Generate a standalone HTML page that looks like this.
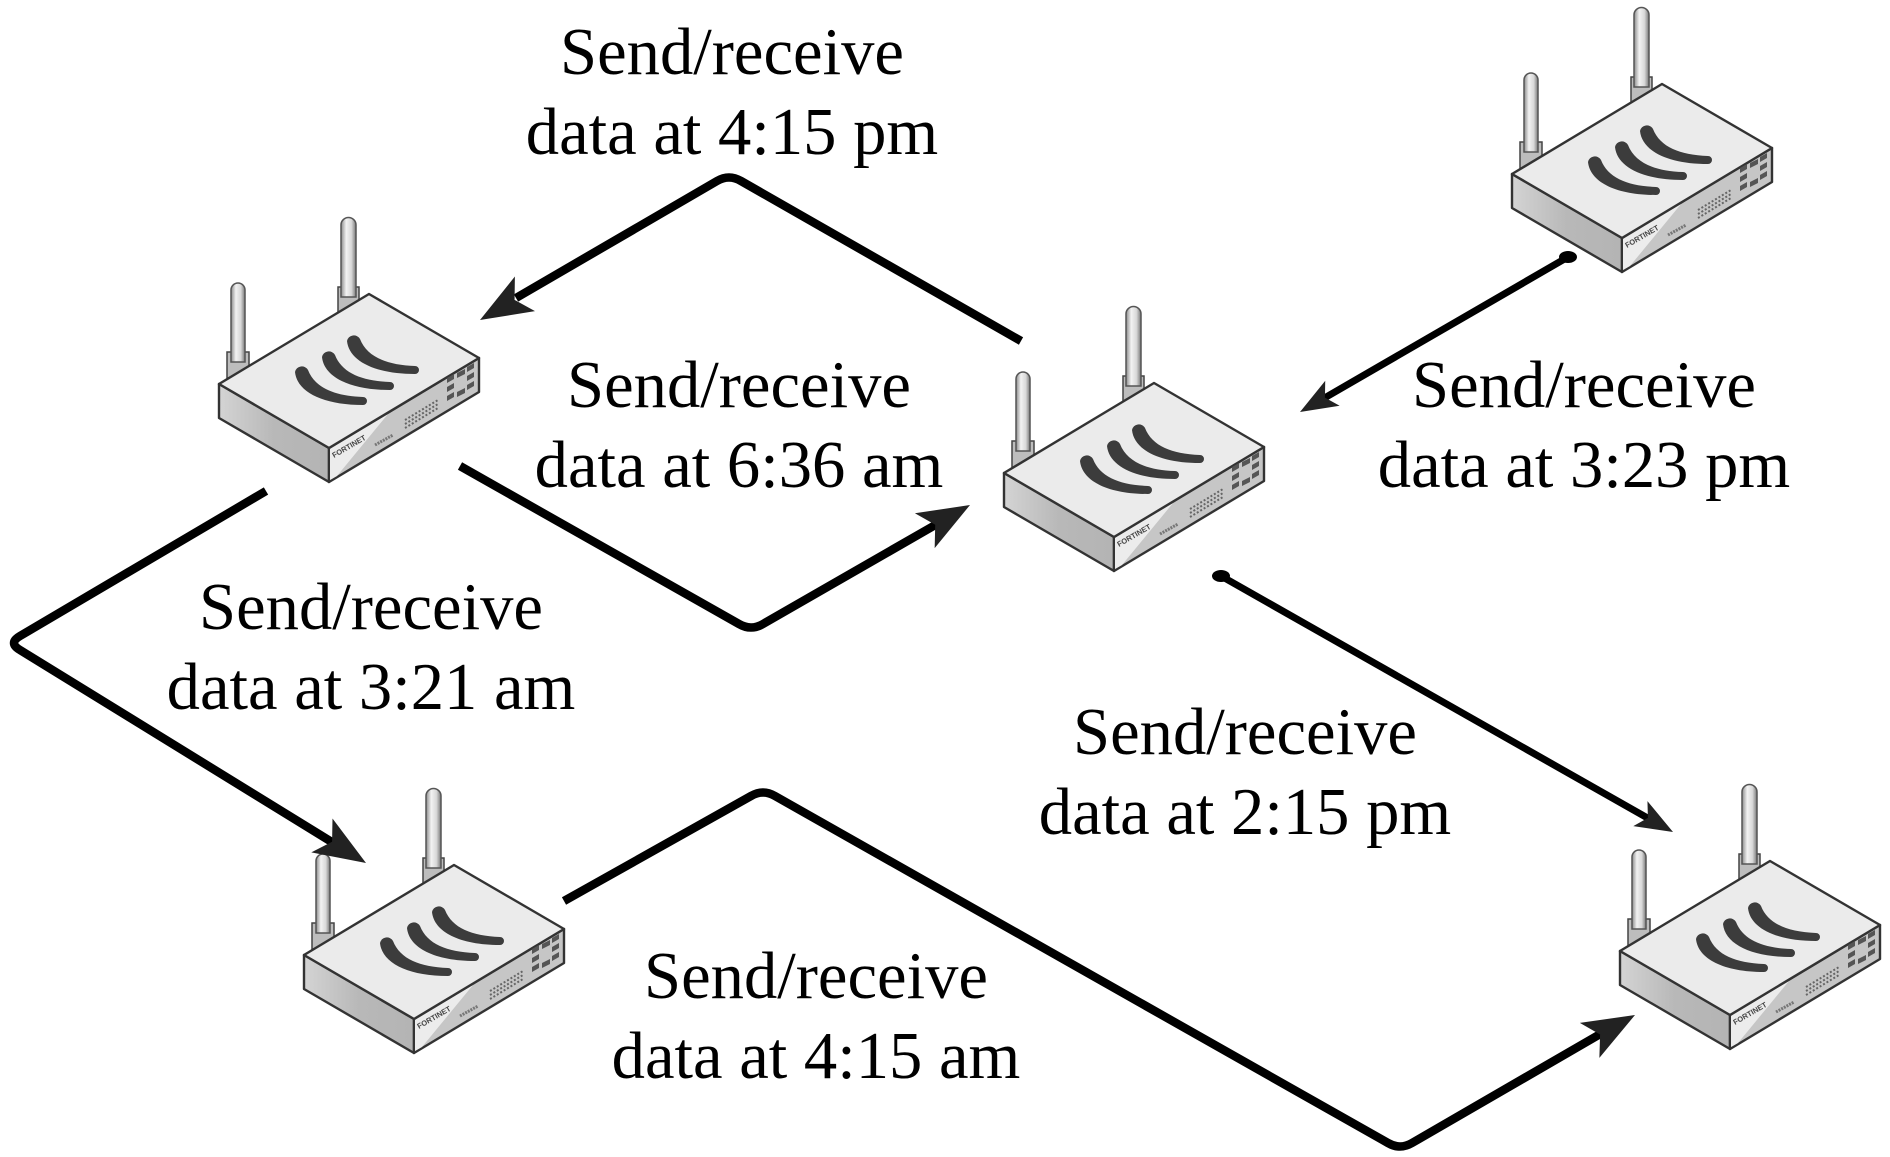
<!DOCTYPE html>
<html><head><meta charset="utf-8"><style>
html,body{margin:0;padding:0;background:#fff}
svg{display:block}
text.t{font-family:"Liberation Serif",serif;font-size:66.6px;fill:#000;text-anchor:middle}
</style></head><body>
<svg width="1890" height="1157" viewBox="0 0 1890 1157" xmlns="http://www.w3.org/2000/svg">
<defs>
<linearGradient id="ant" x1="0" x2="1" y1="0" y2="0"><stop offset="0" stop-color="#8a8a8a"/><stop offset=".35" stop-color="#f2f2f2"/><stop offset=".7" stop-color="#d8d8d8"/><stop offset="1" stop-color="#777"/></linearGradient>
<linearGradient id="lf" x1="0" x2="1" y1="0" y2="0"><stop offset="0" stop-color="#d4d4d4"/><stop offset=".5" stop-color="#b8b8b8"/><stop offset="1" stop-color="#b4b4b4"/></linearGradient>
<path id="arc" d="M76 -12C78 8 104 21 144 21A4 4 0 0 0 144 13C116 12 96 4 89 -14A7 7 0 0 0 76 -12Z" fill="#3c3c3c"/>
<g id="r">
  <rect x="8" y="-32" width="22" height="26" fill="#bdbdbd" stroke="#444" stroke-width="1.5"/>
  <path d="M12 -22V-94a7 7 0 0 1 14 0V-22Z" fill="url(#ant)" stroke="#555" stroke-width="1.5"/>
  <rect x="119" y="-97" width="21" height="26" fill="#bdbdbd" stroke="#444" stroke-width="1.5"/>
  <path d="M122 -87V-159a7.5 7.5 0 0 1 15 0V-87Z" fill="url(#ant)" stroke="#555" stroke-width="1.5"/>
  <path d="M0 0L110 64V98L0 34Z" fill="url(#lf)" stroke="#333" stroke-width="2.4" stroke-linejoin="round"/>
  <path d="M110 64L260 -26V8L110 98Z" fill="#c6c6c6" stroke="#333" stroke-width="2.4" stroke-linejoin="round"/>
  <path d="M111 65L169 30L118 92L111 96Z" fill="#ececec"/>
  <path d="M0 0L150 -90L260 -26L110 64Z" fill="#ebebeb" stroke="#333" stroke-width="2.4" stroke-linejoin="round"/>
  <use href="#arc"/>
  <use href="#arc" x="27" y="-15"/>
  <use href="#arc" x="52" y="-31"/>
  <g fill="#555">
    <path d="M228 -6l7 -4v5l-7 4zM228 3l7 -4v5l-7 4zM228 12l7 -4v5l-7 4z"/>
    <path d="M238 -11l8 -4v5l-8 4zM238 8l8 -4v5l-8 4z"/>
    <path d="M248 -17l7 -4v5l-7 4zM248 -8l7 -4v5l-7 4zM248 1l7 -4v5l-7 4z"/>
  </g>
  <path d="M186 36L219 16M186 40L219 20M186 44L219 24" stroke="#666" stroke-width="2" stroke-dasharray="2 2" fill="none"/>
  <text x="0" y="0" transform="translate(115 74) rotate(-30)" font-family="Liberation Sans,sans-serif" font-size="7.5" font-weight="bold" fill="#444">FORTINET</text>
  <path d="M156 61L174 51" stroke="#777" stroke-width="3" stroke-dasharray="2 1" fill="none"/>
</g>
<polygon id="h" points="0,0 -52,-20 -40,0 -52,20" fill="#222"/>
</defs>
<rect width="1890" height="1157" fill="#fff"/>

<use href="#r" x="219" y="384"/>
<use href="#r" x="1004" y="473"/>
<use href="#r" x="1512" y="174"/>
<use href="#r" x="304" y="955"/>
<use href="#r" x="1620" y="951"/>

<g fill="none" stroke="#000" stroke-width="8.5">
  <path d="M1021 341L741 181Q729 174 717 181L516 298"/>
  <path d="M460 466L739 624Q751 631 763 624L937 524"/>
  <path d="M266 491L20 636Q8 643 20 650L335 844"/>
  <path d="M564 901L751 796Q763 789 775 796L1388 1143Q1400 1150 1412 1143L1602 1033"/>
</g>
<g fill="none" stroke="#000" stroke-width="7">
  <path d="M1568 257L1321 400"/>
  <path d="M1221 576L1651 820"/>
</g>
<ellipse cx="1568" cy="257" rx="9" ry="6" fill="#000"/>
<ellipse cx="1221" cy="576" rx="9" ry="6" fill="#000"/>

<use href="#h" transform="translate(480 320) rotate(149.8)"/>
<use href="#h" transform="translate(970 505) rotate(-29.6)"/>
<use href="#h" transform="translate(366 863) rotate(32)"/>
<use href="#h" transform="translate(1635 1015) rotate(-29.2)"/>
<use href="#h" transform="translate(1300 412) rotate(150) scale(.72)"/>
<use href="#h" transform="translate(1673 832) rotate(29.4) scale(.72)"/>

<text class="t" x="732" y="74">Send/receive</text><text class="t" x="732" y="154">data at 4:15 pm</text>
<text class="t" x="739" y="407">Send/receive</text><text class="t" x="739" y="487">data at 6:36 am</text>
<text class="t" x="1584" y="407">Send/receive</text><text class="t" x="1584" y="487">data at 3:23 pm</text>
<text class="t" x="371" y="629">Send/receive</text><text class="t" x="371" y="709">data at 3:21 am</text>
<text class="t" x="1245" y="754">Send/receive</text><text class="t" x="1245" y="834">data at 2:15 pm</text>
<text class="t" x="816" y="998">Send/receive</text><text class="t" x="816" y="1078">data at 4:15 am</text>
</svg>
</body></html>
